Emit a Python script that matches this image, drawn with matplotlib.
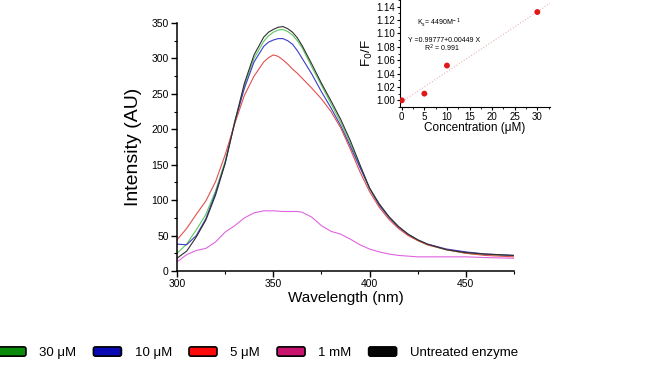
import numpy as np
import matplotlib
matplotlib.use("Agg")
import matplotlib.pyplot as plt
from matplotlib.patches import Patch, FancyBboxPatch
from matplotlib.legend_handler import HandlerPatch
from matplotlib.ticker import MultipleLocator

plt.rcParams['font.family'] = ['Liberation Sans', 'DejaVu Sans']

# ---------------- data ----------------
wavelength = [300, 305, 310, 315, 320, 325, 330, 335, 340, 345, 347.5, 350, 352.5, 355, 357.5,
              360, 362.5, 365, 370, 375, 380, 385, 390, 395, 400, 405, 410, 415, 420, 425,
              430, 440, 450, 460, 475]

untreated = [18, 28, 48, 72, 107, 152, 210, 265, 305, 330, 337, 341, 344, 345, 342,
             337, 329, 318, 292, 265, 240, 214, 184, 150, 117, 95, 77, 63, 52, 44,
             38, 30, 26, 24, 22]
conc_10uM = [38, 37, 50, 74, 110, 152, 210, 258, 295, 317, 323, 326, 328, 328, 325,
             320, 311, 300, 278, 253, 230, 205, 176, 146, 117, 93, 76, 62, 52, 44,
             38, 31, 27, 24, 22]
conc_30uM = [25, 38, 58, 80, 113, 155, 212, 262, 300, 324, 332, 337, 340, 341, 338,
             333, 325, 315, 288, 262, 236, 210, 180, 148, 116, 93, 76, 62, 51, 43,
             37, 30, 25, 23, 21]
conc_5uM = [44, 60, 80, 99, 126, 164, 208, 248, 275, 295, 301, 305, 303, 298, 292,
            285, 279, 272, 258, 243, 225, 202, 172, 140, 112, 90, 73, 60, 50, 43,
            37, 30, 25, 22, 20]
conc_1mM = [13, 23, 29, 32, 41, 55, 64, 75, 82, 85, 85, 85, 84.5, 84, 84,
            84, 84, 83, 76, 64, 56, 52, 45, 37, 31, 27, 24, 22, 21, 20,
            20, 20, 20, 19, 18]

legend_labels = ['30 \u03bcM', '10 \u03bcM', '5 \u03bcM', '1 mM', 'Untreated enzyme']
legend_colors = ['#0a8a0a', '#0a0ab4', '#ff0a0a', '#c8146e', '#050505']
line_colors = ['#5cc85c', '#3c3cc8', '#e05050', '#e064e0', '#303030']

# inset (Stern-Volmer)
sv_conc = [0, 5, 10, 30]
sv_ratio = [1.000, 1.010, 1.052, 1.132]
fit_intercept = 0.99777
fit_slope = 0.00449

# ---------------- figure ----------------
fig = plt.figure(figsize=(6.72, 3.80), dpi=100)
ax = fig.add_axes([0.2634, 0.2868, 0.5015, 0.6526])

series = [conc_30uM, conc_10uM, conc_5uM, conc_1mM, untreated]
for vals, c in zip(series, line_colors):
    ax.plot(wavelength, vals, color=c, lw=0.8)

ax.set_xlim(300, 475)
ax.set_ylim(0, 350)
ax.xaxis.set_major_locator(MultipleLocator(50))
ax.xaxis.set_minor_locator(MultipleLocator(25))
ax.yaxis.set_major_locator(MultipleLocator(50))
ax.yaxis.set_minor_locator(MultipleLocator(25))
for s in ['top', 'right']:
    ax.spines[s].set_visible(False)
for s in ['left', 'bottom']:
    ax.spines[s].set_linewidth(1.1)
ax.tick_params(which='major', direction='out', length=4, width=1, labelsize=7.5, pad=2)
ax.tick_params(which='minor', direction='out', length=2.5, width=0.8)
ax.set_xlabel('Wavelength (nm)', fontsize=11, labelpad=1)
ax.set_ylabel('Intensity (AU)', fontsize=14, labelpad=7)

# ---------------- inset ----------------
ins = fig.add_axes([0.5952, 0.7184, 0.2232, 0.2816])
ins.set_xlim(-0.4, 32.8)
ins.set_ylim(0.99, 1.15)
xs = np.array(ins.get_xlim())
ins.plot(xs, fit_intercept + fit_slope * xs, color='#e8b4b4', lw=0.8, ls=':')
ins.scatter(sv_conc, sv_ratio, s=18, color='#e01818', zorder=3, edgecolors='none')
ins.xaxis.set_major_locator(MultipleLocator(5))
ins.yaxis.set_major_locator(MultipleLocator(0.02))
ins.xaxis.set_minor_locator(MultipleLocator(2.5))
ins.yaxis.set_minor_locator(MultipleLocator(0.01))
ins.yaxis.set_major_formatter(matplotlib.ticker.FormatStrFormatter('%.2f'))
for s in ['top', 'right']:
    ins.spines[s].set_visible(False)
ins.tick_params(which='major', direction='out', length=2.5, width=0.8, labelsize=7, pad=1)
ins.tick_params(which='minor', direction='out', length=1.5, width=0.6)
ins.patch.set_alpha(0)
ins.set_xlabel('Concentration (\u03bcM)', fontsize=8.5, labelpad=0)
ins.set_ylabel(r'F$_0$/F', fontsize=9.5, labelpad=1)
ins.text(8.3, 1.116, r'K$_{\rm s}$= 4490M$^{-1}$', fontsize=5, ha='center', va='center')
ins.text(9.4, 1.090, 'Y =0.99777+0.00449 X', fontsize=5, ha='center', va='center')
ins.text(8.9, 1.077, r'R$^2$ = 0.991', fontsize=5, ha='center', va='center')


# ---------------- legend ----------------
class HandlerRound(HandlerPatch):
    def create_artists(self, legend, orig_handle, xdescent, ydescent, width, height, fontsize, trans):
        p = FancyBboxPatch((-xdescent, -ydescent), width, height,
                           boxstyle='round,pad=0,rounding_size=1.5',
                           facecolor=orig_handle.get_facecolor(), edgecolor='black',
                           lw=1.2, transform=trans)
        return [p]


handles = [Patch(facecolor=c) for c in legend_colors]
leg = fig.legend(handles, legend_labels, loc='center left', bbox_to_anchor=(-0.003, 0.071),
                 ncol=5, frameon=False, handlelength=2.12, handleheight=0.7,
                 handletextpad=1.0, columnspacing=1.3, borderpad=0, borderaxespad=0,
                 prop={'size': 9.5},
                 handler_map={Patch: HandlerRound()})

fig.savefig('out.png', dpi=100)
